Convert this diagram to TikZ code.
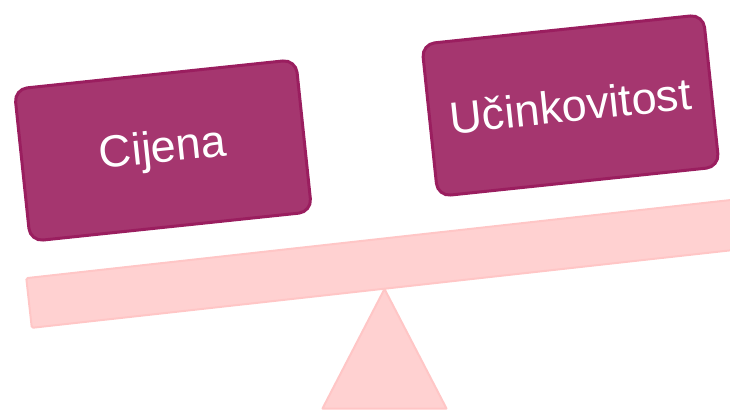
\documentclass[tikz,border=0pt]{standalone}
\usepackage{fontspec}
\setmainfont{Liberation Sans}
\definecolor{boxfill}{HTML}{A5366F}
\definecolor{boxline}{HTML}{9A1E5F}
\definecolor{beamfill}{HTML}{FFD1D1}
\definecolor{beamline}{HTML}{FFC6C6}
\begin{document}
\begin{tikzpicture}[x=1pt,y=1pt,
  weightbox/.style={draw=boxline, fill=boxfill, line width=3pt, rounded corners=13pt,
    minimum width=283pt, minimum height=153pt, rotate=6, text=white,
    font=\fontsize{45}{54}\selectfont, inner sep=0pt},
  beamstyle/.style={draw=beamline, fill=beamfill, line width=2pt, rounded corners=1.5pt,
    minimum width=760pt, minimum height=50pt, rotate=6.33, inner sep=0pt}]
\useasboundingbox (0,0) rectangle (730,410);
\clip (0,0) rectangle (730,410);
% fulcrum
\coordinate (apex) at (384.5,121);
\coordinate (baseL) at (322.5,1.5);
\coordinate (baseR) at (446.5,1.5);
\draw[draw=beamline, fill=beamfill, line width=2pt, line join=round] (apex) -- (baseR) -- (baseL) -- cycle;
% beam
\node[beamstyle] (beam) at (406.7,148.9) {};
% boxes
\node[weightbox] (cijena) at (163,259.5) {Cijena};
\node[weightbox] (ucink) at (570.5,304.5) {Učinkovitost};
\end{tikzpicture}
\end{document}
